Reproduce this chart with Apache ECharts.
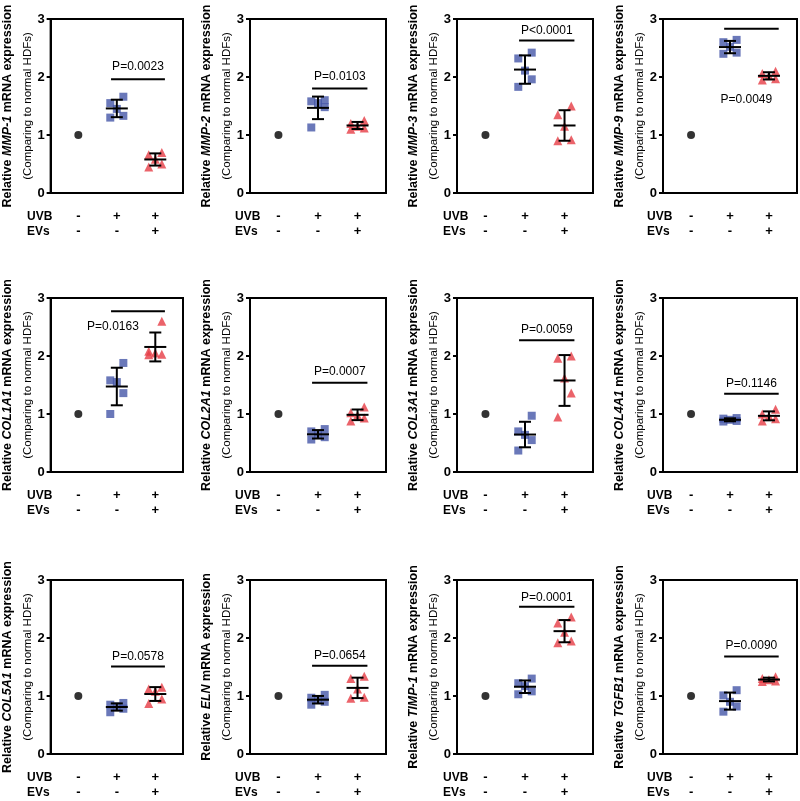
<!DOCTYPE html>
<html><head><meta charset="utf-8">
<script src="https://cdn.jsdelivr.net/npm/echarts@6/dist/echarts.min.js"></script>
<style>html,body{margin:0;padding:0;background:#fff}#c{width:800px;height:801px}</style>
</head><body><div id="c"></div>
<script>
// ---------- data ----------
const GENES = ['MMP-1','MMP-2','MMP-3','MMP-9','COL1A1','COL2A1','COL3A1','COL4A1','COL5A1','ELN','TIMP-1','TGFB1'];
const UVB_ROW = ['-','+','+'];
const EVS_ROW = ['-','-','+'];
const Y_TICKS = [0, 1, 2, 3];
const CONTROL = [1,1,1,1,1,1,1,1,1,1,1,1];
const UVB_ONLY = [
  [1.66,1.55,1.45,1.33,1.30],
  [1.60,1.58,1.55,1.48,1.13],
  [2.42,2.32,2.11,1.96,1.83],
  [2.64,2.60,2.52,2.42,2.40],
  [1.88,1.58,1.55,1.36,1.00],
  [0.74,0.70,0.65,0.60,0.56],
  [0.97,0.70,0.64,0.55,0.37],
  [0.93,0.92,0.90,0.88,0.87],
  [0.88,0.85,0.82,0.78,0.72],
  [1.02,0.97,0.94,0.90,0.85],
  [1.30,1.22,1.17,1.08,1.03],
  [1.10,1.01,0.90,0.82,0.73]
];
const UVB_EVS = [
  [0.70,0.66,0.58,0.50,0.45],
  [1.25,1.20,1.15,1.12,1.10],
  [1.50,1.35,1.15,0.92,0.90],
  [2.10,2.06,2.02,1.97,1.95],
  [2.60,2.08,2.05,2.03,2.02],
  [1.12,1.02,0.98,0.93,0.88],
  [2.00,1.96,1.62,1.36,0.95],
  [1.08,1.00,0.96,0.92,0.88],
  [1.15,1.12,1.08,0.95,0.87],
  [1.34,1.30,1.12,0.98,0.96],
  [2.36,2.26,2.10,1.95,1.92],
  [1.33,1.30,1.28,1.26,1.25]
];
const P_TEXT = ['P=0.0023','P=0.0103','P<0.0001','P=0.0049','P=0.0163','P=0.0007','P=0.0059','P=0.1146','P=0.0578','P=0.0654','P=0.0001','P=0.0090'];
const P_BAR_Y = [1.96,1.80,2.63,2.83,2.77,1.54,2.27,1.35,1.51,1.52,2.54,1.68];
const P_TEXT_Y = [2.18,2.00,2.80,1.61,2.51,1.73,2.45,1.53,1.68,1.70,2.70,1.86];
const P_TEXT_X = [1.55,1.55,1.55,1.42,0.90,1.55,1.55,1.55,1.55,1.55,1.55,1.55];
const P_BAR_X = [0.85, 2.25];

// ---------- layout / style ----------
const GRID_LEFT = [47, 250, 457, 663];
const GRID_TOP = [19, 298, 580];
const GRID_W = [136, 136, 136, 134];
const GRID_H = 174;
const LABEL_DX = [-20, -15, -14, -16];
const X_MIN = -0.72, X_MAX = 2.72;
const JITTER = [0.17, -0.17, 0, 0.17, -0.17];
const FONT = '"Liberation Sans", Arial, Helvetica, sans-serif';
const BLUE = '#4556a8', RED = '#e63c45';

function mean(a){return a.reduce((s,v)=>s+v,0)/a.length;}
function sd(a){const m=mean(a);return Math.sqrt(a.reduce((s,v)=>s+(v-m)*(v-m),0)/(a.length-1));}

const grids=[], xAxes=[], yAxes=[], series=[], graphics=[];
GENES.forEach((g,i)=>{
  const r=Math.floor(i/4), c=i%4;
  const left=GRID_LEFT[c], top=GRID_TOP[r];
  grids.push({left:left, top:top, width:GRID_W[c], height:GRID_H, show:true, borderColor:'#000', borderWidth:2, backgroundColor:'transparent'});
  xAxes.push({type:'value', gridIndex:i, min:X_MIN, max:X_MAX, splitLine:{show:false},
    axisLine:{show:true, onZero:false, lineStyle:{color:'#000', width:2}}, axisTick:{show:false},
    axisLabel:{customValues:[0,1,2], formatter:v=>UVB_ROW[v]+'\n'+EVS_ROW[v], margin:16, fontSize:13, fontWeight:'bold', color:'#000', lineHeight:15, fontFamily:FONT}});
  yAxes.push({type:'value', gridIndex:i, min:Y_TICKS[0], max:Y_TICKS[Y_TICKS.length-1], interval:1, splitLine:{show:false},
    axisLine:{show:true, onZero:false, lineStyle:{color:'#000', width:2}},
    axisTick:{show:true, length:4, lineStyle:{color:'#000', width:2}},
    axisLabel:{margin:6, fontSize:13, fontWeight:'bold', color:'#000', fontFamily:FONT},
    name:'{b|Relative }{bi|'+g+'}{b| mRNA expression}\n{n|(Comparing to normal HDFs)}',
    nameLocation:'middle', nameRotate:90, nameGap:10,
    nameTextStyle:{rich:{
      b:{fontSize:12.5, fontWeight:'bold', fontFamily:FONT, color:'#000', lineHeight:20},
      bi:{fontSize:12.5, fontWeight:'bold', fontStyle:'italic', fontFamily:FONT, color:'#000', lineHeight:20},
      n:{fontSize:11.5, fontFamily:FONT, color:'#000', lineHeight:20}}}});
  graphics.push({type:'text', left:left+LABEL_DX[c], top:top+GRID_H+16.5,
    style:{text:'UVB\nEVs', font:'bold 12px '+FONT, fill:'#000', lineHeight:15}});

  series.push({type:'scatter', xAxisIndex:i, yAxisIndex:i, data:[[0, CONTROL[i]]], symbol:'circle', symbolSize:8, itemStyle:{color:'#000'}, z:2});
  series.push({type:'scatter', xAxisIndex:i, yAxisIndex:i, data:UVB_ONLY[i].map((v,k)=>[1+JITTER[k], v]), symbol:'rect', symbolSize:8, itemStyle:{color:BLUE}, z:2});
  series.push({type:'scatter', xAxisIndex:i, yAxisIndex:i, data:UVB_EVS[i].map((v,k)=>[2+JITTER[k], v]), symbol:'triangle', symbolSize:9, itemStyle:{color:RED}, z:2});
  series.push({type:'custom', xAxisIndex:i, yAxisIndex:i, z:3,
    data:[[1, mean(UVB_ONLY[i]), sd(UVB_ONLY[i])],[2, mean(UVB_EVS[i]), sd(UVB_EVS[i])]],
    renderItem:(params, api)=>{
      const x=api.value(0), m=api.value(1), s=api.value(2);
      const pc=api.coord([x,m]), pt=api.coord([x,m+s]), pb=api.coord([x,m-s]);
      const st={stroke:'#000', lineWidth:2};
      return {type:'group', children:[
        {type:'line', shape:{x1:pc[0]-11,y1:pc[1],x2:pc[0]+11,y2:pc[1]}, style:st},
        {type:'line', shape:{x1:pt[0],y1:pt[1],x2:pb[0],y2:pb[1]}, style:st},
        {type:'line', shape:{x1:pt[0]-6,y1:pt[1],x2:pt[0]+6,y2:pt[1]}, style:st},
        {type:'line', shape:{x1:pb[0]-6,y1:pb[1],x2:pb[0]+6,y2:pb[1]}, style:st}
      ]};
    }});
  series.push({type:'custom', xAxisIndex:i, yAxisIndex:i, z:3,
    data:[[P_BAR_X[0], P_BAR_X[1], P_BAR_Y[i], P_TEXT_X[i], P_TEXT_Y[i]]],
    renderItem:(params, api)=>{
      const a=api.coord([api.value(0), api.value(2)]), b=api.coord([api.value(1), api.value(2)]);
      const t=api.coord([api.value(3), api.value(4)]);
      return {type:'group', children:[
        {type:'line', shape:{x1:a[0],y1:a[1],x2:b[0],y2:b[1]}, style:{stroke:'#000', lineWidth:2}},
        {type:'text', style:{text:P_TEXT[i], x:t[0], y:t[1], fill:'#000', font:'12px '+FONT, align:'center', verticalAlign:'middle'}}
      ]};
    }});
});

const chart = echarts.init(document.getElementById('c'), null, {renderer:'canvas'});
chart.setOption({animation:false, backgroundColor:'#fff', grid:grids, xAxis:xAxes, yAxis:yAxes, series:series, graphic:graphics});
</script></body></html>
